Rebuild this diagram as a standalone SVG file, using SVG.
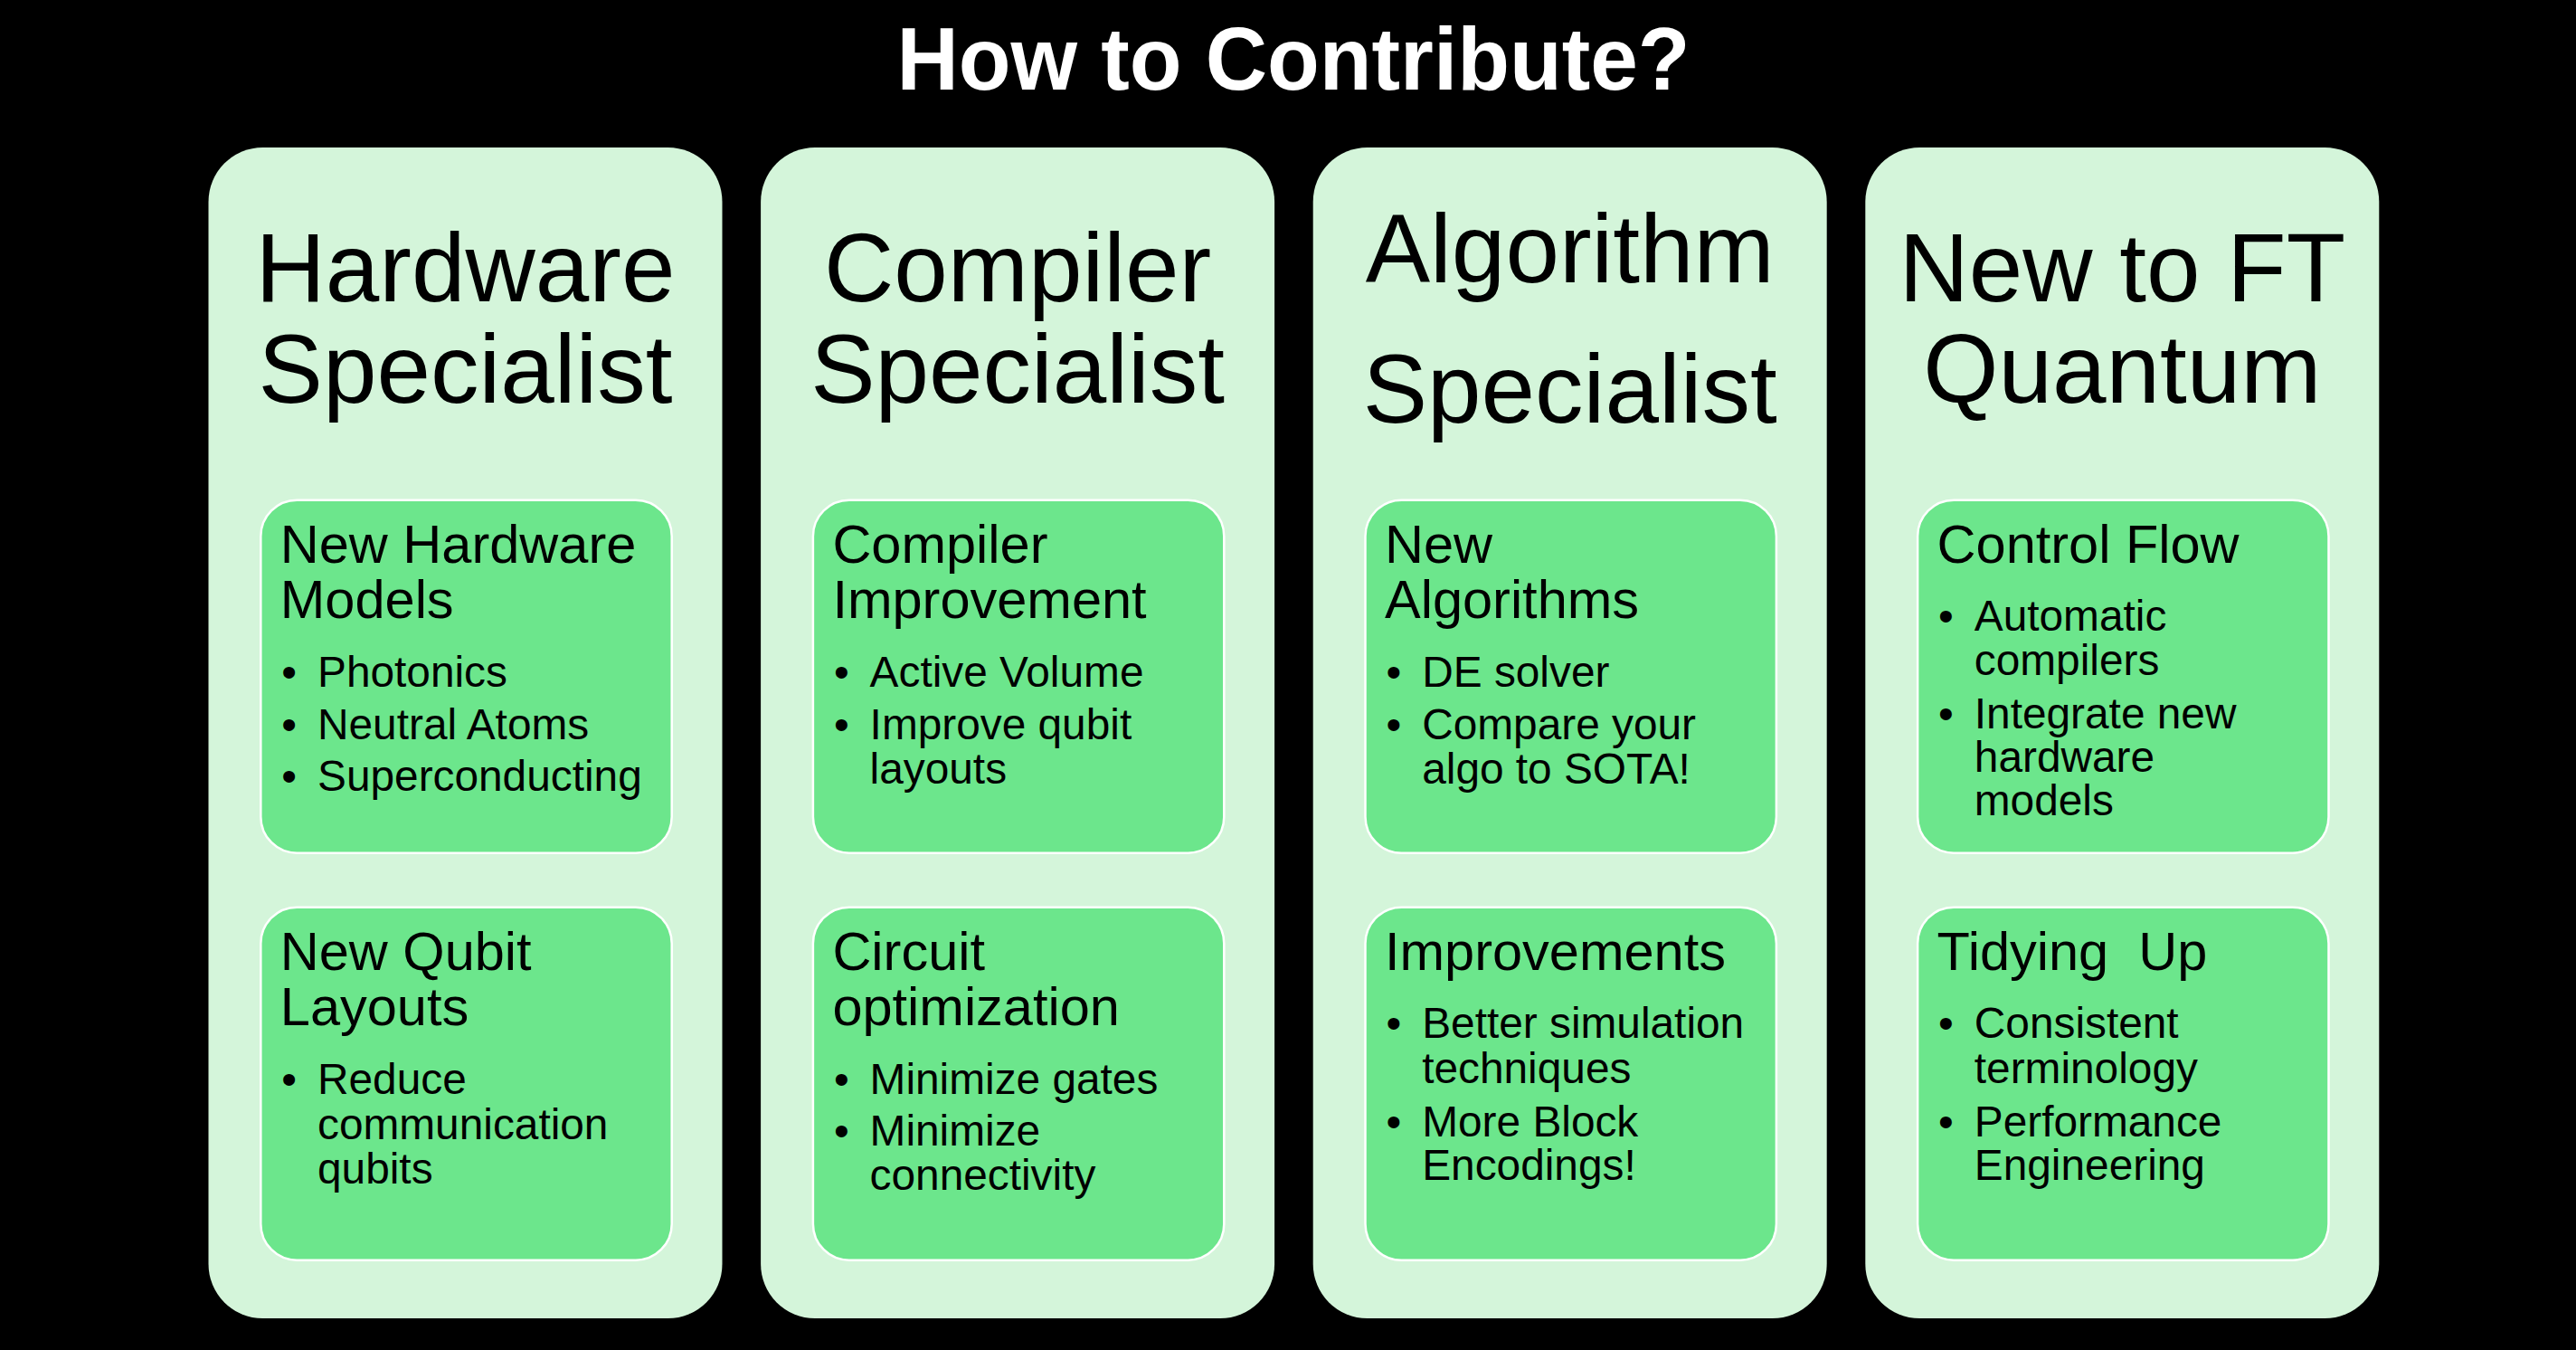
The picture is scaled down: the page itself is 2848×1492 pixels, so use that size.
<svg xmlns="http://www.w3.org/2000/svg" width="2848" height="1492" viewBox="0 0 2848 1492">
  <style>
    text { font-family: "Liberation Sans", Arial, Helvetica, sans-serif; fill: #000; }
    .title { font-size: 98px; font-weight: bold; fill: #fff; text-anchor: middle; }
    .panel { fill: #D4F5DA; }
    .card { fill: #6CE68C; stroke: #fff; stroke-width: 2.5; }
    .head { font-size: 107px; text-anchor: middle; }
    .ct { font-size: 59.5px; }
    .bt { font-size: 47.8px; }
    .pre { white-space: pre; }
  </style>

  <rect width="2848" height="1492" fill="#000"/>

  <text class="title" x="1430" y="99.3" textLength="877" lengthAdjust="spacingAndGlyphs">How to Contribute?</text>

  <!-- Column 1 -->
  <g id="hardware-specialist" transform="translate(230.5,0)">
    <rect class="panel" x="0" y="163" width="568" height="1294" rx="60"/>
    <text class="head" x="284" y="332.7">Hardware</text>
    <text class="head" x="284" y="445">Specialist</text>
    <g id="new-hardware-models">
      <rect class="card" x="57.8" y="552.7" width="454.4" height="390" rx="40"/>
      <text class="ct" x="79.3" y="621.7">New Hardware</text>
      <text class="ct" x="79.3" y="683.3">Models</text>
      <text class="bt" x="80.8" y="759">•</text>
      <text class="bt" x="120.5" y="759">Photonics</text>
      <text class="bt" x="80.8" y="816.7">•</text>
      <text class="bt" x="120.5" y="816.7">Neutral Atoms</text>
      <text class="bt" x="80.8" y="874.3">•</text>
      <text class="bt" x="120.5" y="874.3">Superconducting</text>
    </g>
    <g id="new-qubit-layouts">
      <rect class="card" x="57.8" y="1002.7" width="454.4" height="390" rx="40"/>
      <text class="ct" x="79.3" y="1071.7">New Qubit</text>
      <text class="ct" x="79.3" y="1133.3">Layouts</text>
      <text class="bt" x="80.8" y="1209.3">•</text>
      <text class="bt" x="120.5" y="1209.3">Reduce</text>
      <text class="bt" x="120.5" y="1258.5">communication</text>
      <text class="bt" x="120.5" y="1308">qubits</text>
    </g>
  </g>

  <!-- Column 2 -->
  <g id="compiler-specialist" transform="translate(841.1,0)">
    <rect class="panel" x="0" y="163" width="568" height="1294" rx="60"/>
    <text class="head" x="284" y="332.7">Compiler</text>
    <text class="head" x="284" y="445">Specialist</text>
    <g id="compiler-improvement">
      <rect class="card" x="57.8" y="552.7" width="454.4" height="390" rx="40"/>
      <text class="ct" x="79.3" y="621.7">Compiler</text>
      <text class="ct" x="79.3" y="683.3">Improvement</text>
      <text class="bt" x="80.8" y="759">•</text>
      <text class="bt" x="120.5" y="759">Active Volume</text>
      <text class="bt" x="80.8" y="817">•</text>
      <text class="bt" x="120.5" y="817">Improve qubit</text>
      <text class="bt" x="120.5" y="866">layouts</text>
    </g>
    <g id="circuit-optimization">
      <rect class="card" x="57.8" y="1002.7" width="454.4" height="390" rx="40"/>
      <text class="ct" x="79.3" y="1071.7">Circuit</text>
      <text class="ct" x="79.3" y="1133.3">optimization</text>
      <text class="bt" x="80.8" y="1209.3">•</text>
      <text class="bt" x="120.5" y="1209.3">Minimize gates</text>
      <text class="bt" x="80.8" y="1266">•</text>
      <text class="bt" x="120.5" y="1266">Minimize</text>
      <text class="bt" x="120.5" y="1315">connectivity</text>
    </g>
  </g>

  <!-- Column 3 -->
  <g id="algorithm-specialist" transform="translate(1451.7,0)">
    <rect class="panel" x="0" y="163" width="568" height="1294" rx="60"/>
    <text class="head" x="284" y="311.7">Algorithm</text>
    <text class="head" x="284" y="466.7">Specialist</text>
    <g id="new-algorithms">
      <rect class="card" x="57.8" y="552.7" width="454.4" height="390" rx="40"/>
      <text class="ct" x="79.3" y="621.7">New</text>
      <text class="ct" x="79.3" y="683.3">Algorithms</text>
      <text class="bt" x="80.8" y="759">•</text>
      <text class="bt" x="120.5" y="759">DE solver</text>
      <text class="bt" x="80.8" y="817">•</text>
      <text class="bt" x="120.5" y="817">Compare your</text>
      <text class="bt" x="120.5" y="866">algo to SOTA!</text>
    </g>
    <g id="improvements">
      <rect class="card" x="57.8" y="1002.7" width="454.4" height="390" rx="40"/>
      <text class="ct" x="79.3" y="1071.7">Improvements</text>
      <text class="bt" x="80.8" y="1147">•</text>
      <text class="bt" x="120.5" y="1147">Better simulation</text>
      <text class="bt" x="120.5" y="1196.5">techniques</text>
      <text class="bt" x="80.8" y="1255.5">•</text>
      <text class="bt" x="120.5" y="1255.5">More Block</text>
      <text class="bt" x="120.5" y="1303.5">Encodings!</text>
    </g>
  </g>

  <!-- Column 4 -->
  <g id="new-to-ft-quantum" transform="translate(2062.3,0)">
    <rect class="panel" x="0" y="163" width="568" height="1294" rx="60"/>
    <text class="head" x="284" y="332.7">New to FT</text>
    <text class="head" x="284" y="445">Quantum</text>
    <g id="control-flow">
      <rect class="card" x="57.8" y="552.7" width="454.4" height="390" rx="40"/>
      <text class="ct" x="79.3" y="621.7">Control Flow</text>
      <text class="bt" x="80.8" y="697">•</text>
      <text class="bt" x="120.5" y="697">Automatic</text>
      <text class="bt" x="120.5" y="746">compilers</text>
      <text class="bt" x="80.8" y="805">•</text>
      <text class="bt" x="120.5" y="805">Integrate new</text>
      <text class="bt" x="120.5" y="853">hardware</text>
      <text class="bt" x="120.5" y="901">models</text>
    </g>
    <g id="tidying-up">
      <rect class="card" x="57.8" y="1002.7" width="454.4" height="390" rx="40"/>
      <text class="ct pre" x="79.3" y="1071.7" xml:space="preserve">Tidying  Up</text>
      <text class="bt" x="80.8" y="1147">•</text>
      <text class="bt" x="120.5" y="1147">Consistent</text>
      <text class="bt" x="120.5" y="1196.5">terminology</text>
      <text class="bt" x="80.8" y="1255.5">•</text>
      <text class="bt" x="120.5" y="1255.5">Performance</text>
      <text class="bt" x="120.5" y="1303.5">Engineering</text>
    </g>
  </g>
</svg>
